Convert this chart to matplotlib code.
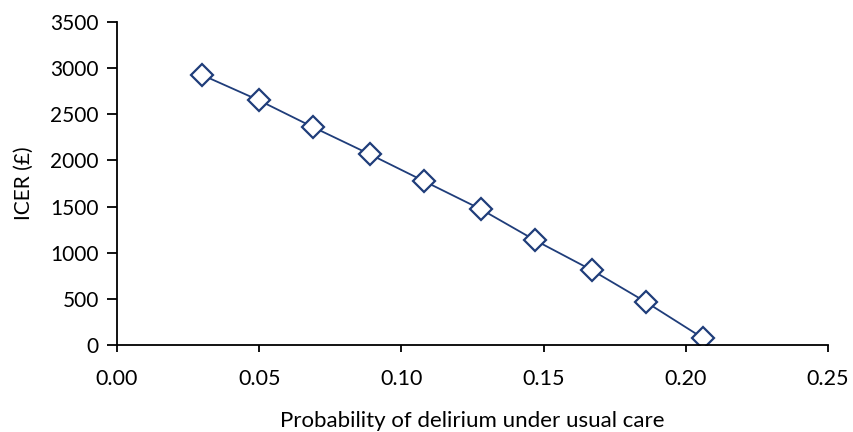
import numpy as np
import matplotlib.pyplot as plt

plt.rcParams['font.family'] = ['Lato', 'DejaVu Sans']

# Datos
prob_delirium = [0.030, 0.050, 0.069, 0.089, 0.108, 0.128, 0.147, 0.167, 0.186, 0.206]
icer = [2925, 2650, 2360, 2065, 1775, 1470, 1135, 810, 465, 75]

x_ticks = [0.00, 0.05, 0.10, 0.15, 0.20, 0.25]
y_ticks = [0, 500, 1000, 1500, 2000, 2500, 3000, 3500]

# Grafica
fig = plt.figure(figsize=(8.54, 4.32), dpi=100)
ax = fig.add_axes([0.137, 0.2014, 0.8326, 0.7476])

color = '#1f3d7a'
ax.plot(prob_delirium, icer, color=color, lw=1.3,
        marker='D', markersize=11, markerfacecolor='white',
        markeredgecolor=color, markeredgewidth=1.6)

ax.set_xlim(0, 0.25)
ax.set_ylim(0, 3500)
ax.set_xticks(x_ticks)
ax.set_xticklabels(['%.2f' % t for t in x_ticks])
ax.set_yticks(y_ticks)

ax.spines['top'].set_visible(False)
ax.spines['right'].set_visible(False)
for s in ['left', 'bottom']:
    ax.spines[s].set_linewidth(1.3)
ax.tick_params(axis='y', labelsize=15, width=1.3, length=7, pad=6, direction='out')
ax.tick_params(axis='x', labelsize=15.5, width=1.3, length=5, pad=12, direction='out')

ax.set_xlabel('Probability of delirium under usual care', fontsize=16, labelpad=16)
ax.set_ylabel('ICER (£)', fontsize=15, labelpad=12)

plt.savefig('out.png', dpi=100)
